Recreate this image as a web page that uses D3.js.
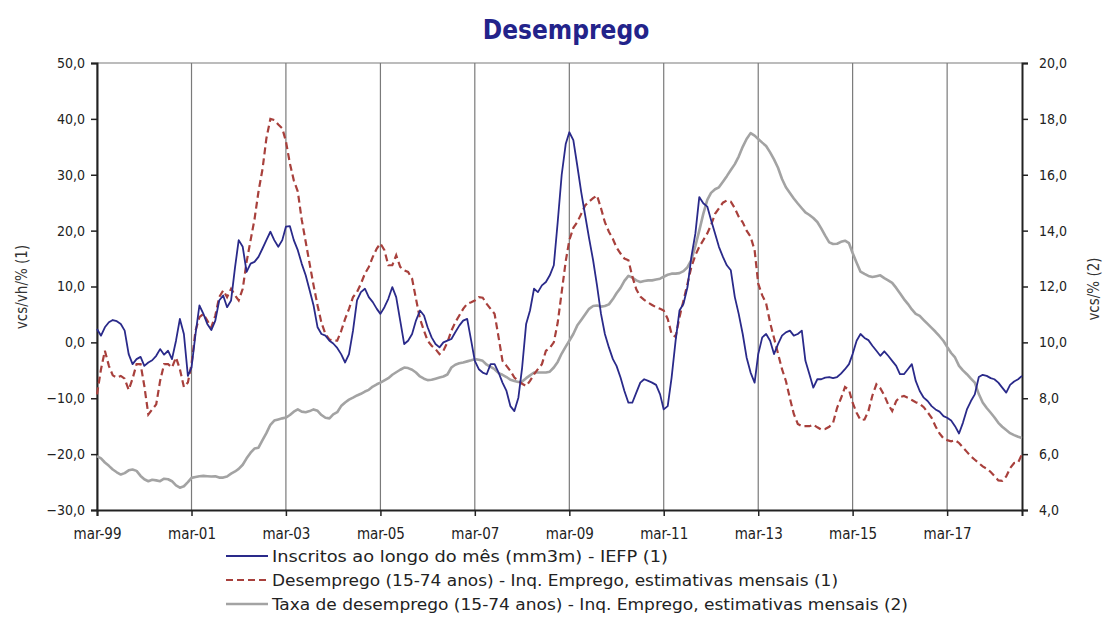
<!DOCTYPE html>
<html><head><meta charset="utf-8">
<script src="https://cdn.jsdelivr.net/npm/d3@7"></script>
<style>body{margin:0;background:#fff}svg{display:block}text{font-family:"DejaVu Sans",Verdana,sans-serif}</style>
</head><body><svg id="c" width="1110" height="617"></svg>
<script>
// ---- data (monthly, mar-99 .. oct-18) ----
const startYear = 1999, startMonth = 2; // March 1999
const inscritos = [2.4,1.2,2.7,3.6,4.0,3.8,3.3,2.1,-2.1,-3.9,-3.0,-2.6,-4.2,-3.6,-3.2,-2.4,-1.2,-2.2,-1.5,-3.0,0.3,4.2,1.5,-6.0,-4.5,1.5,6.6,5.1,3.3,2.2,3.9,7.5,8.4,6.3,7.5,13.5,18.3,17.1,12.6,14.1,14.4,15.3,16.8,18.3,19.8,18.3,17.1,18.3,20.7,20.8,18.3,16.5,14.1,12.0,9.3,6.6,2.7,1.5,1.2,0.3,-0.2,-1.0,-2.1,-3.6,-2.1,2.1,7.5,9.0,9.6,8.1,7.2,6.0,5.1,6.3,7.8,9.9,8.1,3.9,-0.3,0.3,1.5,3.9,5.7,4.8,2.7,0.9,-0.3,-0.9,0.0,0.3,0.6,1.8,3.0,3.9,4.2,0.3,-3.3,-4.8,-5.4,-5.7,-3.9,-3.9,-5.4,-7.2,-8.7,-11.4,-12.3,-9.9,-4.5,3.3,5.7,9.6,9.0,10.2,10.8,12.0,13.8,21.5,30.0,35.5,37.6,36.2,31.7,26.9,22.8,18.6,14.7,10.2,5.1,1.5,-0.9,-3.0,-4.2,-6.3,-8.7,-10.8,-10.8,-9.0,-7.2,-6.6,-6.9,-7.2,-7.6,-9.3,-12.0,-11.4,-6.3,0.3,5.7,6.9,9.9,15.3,19.5,26.0,24.9,24.3,21.9,19.5,17.1,15.3,13.8,12.9,8.1,5.1,1.5,-2.7,-5.4,-7.2,-2.1,0.9,1.5,0.3,-2.1,-0.3,1.2,1.8,2.1,1.2,1.5,2.1,-3.3,-5.7,-8.1,-6.6,-6.6,-6.3,-6.2,-6.4,-6.2,-5.6,-4.8,-3.9,-2.1,0.3,1.5,0.8,0.4,-0.6,-1.5,-2.4,-1.6,-2.4,-3.3,-4.2,-5.7,-5.7,-4.8,-3.9,-6.9,-8.7,-9.9,-10.5,-11.4,-12.0,-12.4,-13.2,-13.5,-14.0,-15.0,-16.3,-14.4,-12.0,-10.5,-9.3,-6.2,-5.8,-6.0,-6.4,-6.6,-7.2,-8.1,-9.0,-7.6,-7.0,-6.6,-6.0];
const desemprego = [-9.3,-4.8,-1.5,-4.2,-5.9,-6.3,-6.0,-6.5,-8.5,-6.5,-3.9,-3.9,-7.8,-12.9,-12.0,-11.1,-6.9,-3.9,-3.9,-4.5,-2.7,-4.8,-8.0,-7.2,-3.9,2.1,4.5,5.1,3.9,2.7,4.8,8.1,9.3,8.1,9.6,8.4,7.5,9.6,14.4,18.3,22.0,27.0,31.0,36.5,40.0,39.8,39.0,38.3,36.0,32.0,29.0,27.0,22.0,18.0,14.0,10.2,6.6,3.5,1.5,0.5,0.3,0.3,2.0,4.2,6.0,8.1,9.0,10.5,12.3,13.5,15.3,16.8,17.7,16.5,13.8,13.8,15.6,13.5,12.9,12.6,11.4,7.8,4.2,2.1,0.3,-0.6,-1.2,-2.1,-1.5,0.0,2.1,3.6,4.8,6.0,6.9,7.2,7.5,8.1,8.0,6.9,6.0,5.1,0.9,-3.3,-4.2,-5.1,-6.3,-6.9,-7.4,-7.8,-6.9,-5.7,-4.8,-3.9,-1.5,-1.0,0.0,3.5,9.0,14.5,18.3,20.5,21.5,23.0,24.5,25.2,25.8,26.3,24.0,21.5,19.8,18.5,17.0,15.9,15.0,14.7,11.8,9.5,8.2,7.6,7.1,6.7,6.3,6.0,5.7,4.2,1.5,1.0,4.5,7.5,10.5,13.5,15.6,17.1,18.3,19.5,21.0,23.0,24.0,25.0,25.4,25.2,24.0,22.5,21.5,20.0,18.9,16.5,10.5,8.4,7.0,3.5,0.8,-2.0,-4.8,-6.9,-10.0,-12.8,-14.6,-15.0,-15.0,-15.0,-14.7,-15.2,-15.6,-15.5,-15.1,-14.4,-11.7,-10.0,-8.0,-8.5,-10.8,-12.6,-13.9,-13.8,-12.3,-9.5,-7.5,-8.2,-9.5,-11.1,-12.3,-10.5,-9.8,-9.6,-9.9,-10.3,-10.7,-11.0,-11.6,-12.5,-13.5,-15.0,-16.3,-17.2,-17.5,-17.7,-17.5,-18.0,-18.8,-19.6,-20.4,-21.0,-21.6,-22.2,-22.6,-23.2,-23.9,-24.7,-24.8,-24.0,-22.5,-21.6,-21.5,-20.0];
const taxa = [5.93,5.85,5.70,5.58,5.45,5.35,5.27,5.32,5.42,5.45,5.40,5.22,5.10,5.03,5.08,5.06,5.03,5.12,5.10,5.03,4.88,4.80,4.85,5.00,5.15,5.18,5.21,5.22,5.21,5.20,5.21,5.16,5.16,5.20,5.30,5.38,5.47,5.62,5.85,6.05,6.20,6.23,6.50,6.75,7.05,7.20,7.24,7.28,7.31,7.40,7.52,7.60,7.52,7.50,7.54,7.60,7.55,7.40,7.30,7.28,7.42,7.50,7.72,7.85,7.95,8.02,8.10,8.16,8.24,8.30,8.42,8.50,8.56,8.64,8.72,8.84,8.93,9.02,9.10,9.08,9.02,8.92,8.78,8.70,8.65,8.66,8.70,8.74,8.78,8.85,9.10,9.20,9.25,9.28,9.32,9.36,9.40,9.38,9.34,9.20,9.12,9.04,8.90,8.84,8.76,8.66,8.62,8.58,8.60,8.72,8.82,8.92,8.92,8.92,8.92,8.95,9.10,9.30,9.60,9.85,10.06,10.30,10.60,10.80,11.00,11.20,11.30,11.32,11.28,11.30,11.36,11.55,11.76,11.95,12.20,12.38,12.32,12.22,12.16,12.20,12.22,12.22,12.25,12.28,12.35,12.42,12.46,12.46,12.48,12.55,12.69,12.95,13.45,14.00,14.60,15.10,15.35,15.48,15.55,15.75,15.95,16.17,16.38,16.65,17.00,17.28,17.49,17.40,17.28,17.15,17.03,16.80,16.55,16.25,15.85,15.55,15.35,15.15,14.97,14.80,14.65,14.56,14.45,14.31,14.08,13.82,13.58,13.52,13.53,13.60,13.64,13.55,13.20,12.85,12.53,12.45,12.38,12.34,12.37,12.40,12.30,12.22,12.13,11.95,11.76,11.55,11.38,11.18,11.02,10.95,10.80,10.66,10.52,10.38,10.22,10.05,9.84,9.62,9.46,9.16,9.00,8.86,8.70,8.56,8.15,7.85,7.65,7.48,7.32,7.12,6.98,6.86,6.75,6.68,6.62,6.58];
const xTickLabels = ["mar-99","mar-01","mar-03","mar-05","mar-07","mar-09","mar-11","mar-13","mar-15","mar-17"];
const leftTicks = [-30,-20,-10,0,10,20,30,40,50];
const rightTicks = [4,6,8,10,12,14,16,18,20];
const seriesNames = ["Inscritos ao longo do mês (mm3m) - IEFP (1)","Desemprego (15-74 anos) - Inq. Emprego, estimativas mensais (1)","Taxa de desemprego (15-74 anos) - Inq. Emprego, estimativas mensais (2)"];
const title = "Desemprego";
const leftTitle = "vcs/vh/% (1)", rightTitle = "vcs/% (2)";

// ---- layout ----
const L = 97, R = 1022, T = 63, B = 510;
const svg = d3.select("#c");
const months = inscritos.map((_, i) => new Date(startYear, startMonth + i, 1));
const x = d3.scaleTime().domain([months[0], months[months.length - 1]]).range([L, R]);
const yL = d3.scaleLinear().domain([-30, 50]).range([B, T]);
const yR = d3.scaleLinear().domain([4, 20]).range([B, T]);
const tickDates = xTickLabels.map((_, k) => new Date(startYear + 2 * k, 2, 1));
const fmt = v => d3.format(".1f")(v).replace(".", ",");
const cond = "'DejaVu Sans Condensed','DejaVu Sans',sans-serif";

// title
svg.append("text").attr("x", 566).attr("y", 39).attr("text-anchor", "middle")
  .attr("font-size", 26).attr("font-weight", "bold").attr("fill", "#23238a")
  .style("font-family", cond).text(title);

// gridlines
svg.append("g").selectAll("line").data(tickDates).join("line")
  .attr("x1", d => x(d)).attr("x2", d => x(d)).attr("y1", T).attr("y2", B)
  .attr("stroke", "#7a7a7a").attr("stroke-width", 1.2);
svg.append("line").attr("x1", L).attr("x2", R).attr("y1", T).attr("y2", T)
  .attr("stroke", "#7a7a7a").attr("stroke-width", 1.2);

// axes
const axL = svg.append("g").attr("transform", `translate(${L},0)`)
  .call(d3.axisLeft(yL).tickValues(leftTicks).tickFormat(fmt).tickSize(6).tickPadding(6));
const axR = svg.append("g").attr("transform", `translate(${R},0)`)
  .call(d3.axisRight(yR).tickValues(rightTicks).tickFormat(fmt).tickSize(6).tickPadding(11));
const axB = svg.append("g").attr("transform", `translate(0,${B})`)
  .call(d3.axisBottom(x).tickValues(tickDates).tickFormat((d, i) => xTickLabels[i]).tickSize(6).tickPadding(12));
[axL, axR, axB].forEach(g => {
  g.select(".domain").attr("stroke", "#222").attr("stroke-width", 2);
  g.selectAll(".tick line").attr("stroke", "#222").attr("stroke-width", 1.5);
  g.selectAll("text").attr("font-size", 14).attr("fill", "#222").style("font-family", cond);
});
axB.selectAll("text").attr("font-size", 15);

// axis titles
svg.append("text").attr("transform", "translate(27,287) rotate(-90)").attr("text-anchor", "middle")
  .attr("font-size", 15).attr("fill", "#333").style("font-family", cond).text(leftTitle);
svg.append("text").attr("transform", "translate(1099,289) rotate(-90)").attr("text-anchor", "middle")
  .attr("font-size", 15).attr("fill", "#333").style("font-family", cond).text(rightTitle);

// lines
const lineL = d3.line().x((d, i) => x(months[i])).y(d => yL(d));
const lineR = d3.line().x((d, i) => x(months[i])).y(d => yR(d));
svg.append("path").datum(taxa).attr("d", lineR).attr("fill", "none")
  .attr("stroke", "#a3a3a3").attr("stroke-width", 2.6).attr("stroke-linejoin", "round");
svg.append("path").datum(desemprego).attr("d", lineL).attr("fill", "none")
  .attr("stroke", "#a8403c").attr("stroke-width", 2.2).attr("stroke-dasharray", "7,4");
svg.append("path").datum(inscritos).attr("d", lineL).attr("fill", "none")
  .attr("stroke", "#2a2a8a").attr("stroke-width", 1.8).attr("stroke-linejoin", "round");

// legend
const legStyles = [
  {c: "#2a2a8a", w: 2.2, dash: null, len: 396},
  {c: "#a8403c", w: 2.2, dash: "7,4", len: 566},
  {c: "#a3a3a3", w: 2.6, dash: null, len: 636}
];
const lg = svg.append("g");
seriesNames.forEach((n, k) => {
  const yy = 556 + k * 24;
  lg.append("line").attr("x1", 226).attr("x2", 268).attr("y1", yy).attr("y2", yy)
    .attr("stroke", legStyles[k].c).attr("stroke-width", legStyles[k].w)
    .attr("stroke-dasharray", legStyles[k].dash);
  lg.append("text").attr("x", 272).attr("y", yy + 6).attr("font-size", 16).attr("fill", "#222")
    .attr("textLength", legStyles[k].len).attr("lengthAdjust", "spacingAndGlyphs")
    .style("font-family", cond).text(n);
});
</script></body></html>
